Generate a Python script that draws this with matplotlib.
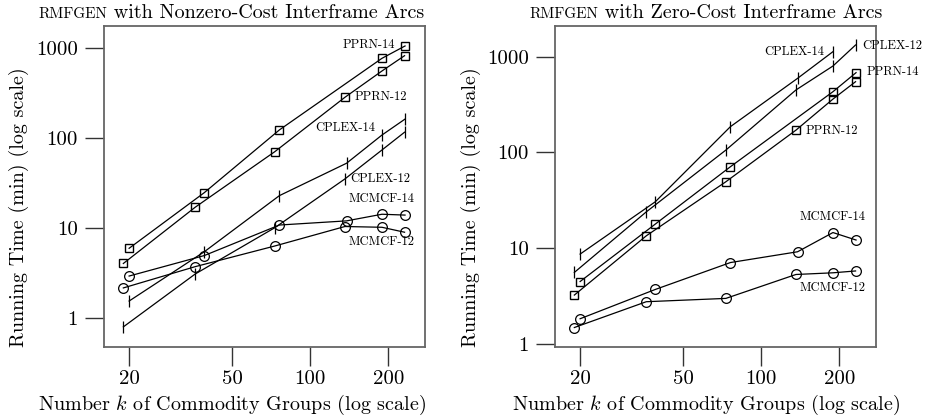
import numpy as np
from matplotlib import pyplot as plt

plt.rcParams['font.family'] = ['cmr10', 'DejaVu Serif']
plt.rcParams['mathtext.fontset'] = 'cm'
plt.rcParams['axes.formatter.use_mathtext'] = True

# commodity group counts (two slightly offset sets of runs)
k_a = [19, 36, 73, 136, 189, 231]
k_b = [20, 39, 76, 138, 189, 232]
k_b5 = [20, 39, 76, 189, 232]      # runs without the 138 point
k_b5c = [20, 39, 76, 138, 189]     # runs without the 232 point

# left panel: nonzero-cost interframe arcs
nz_pprn14 = [5.9, 24.5, 122, 762, 1045]
nz_pprn12 = [4.0, 16.9, 70, 281, 551, 815]
nz_cplex14 = [1.53, 5.4, 22.7, 52, 107, 161]
nz_cplex12 = [0.79, 3.06, 10, 34.8, 73, 115]
nz_mcmcf14 = [2.9, 4.9, 10.7, 11.9, 14.1, 13.8]
nz_mcmcf12 = [2.14, 3.69, 6.26, 10.3, 10.1, 8.9]

# right panel: zero-cost interframe arcs
z_cplex14 = [8.7, 30.6, 186, 594, 1128]
z_cplex12 = [5.6, 24, 106, 449, 799, 1324]
z_pprn14 = [4.5, 17.9, 71, 431, 681]
z_pprn12 = [3.25, 13.5, 49.5, 171, 361, 548]
z_mcmcf14 = [1.84, 3.72, 7.1, 9.2, 14.6, 12.2]
z_mcmcf12 = [1.49, 2.77, 3.0, 5.33, 5.55, 5.8]

xticks = [20, 50, 100, 200]
yticks = [1, 10, 100, 1000]

sq = dict(marker='s', ms=6.2, mfc='none', mec='black', mew=1.0, color='black', lw=0.9)
ci = dict(marker='o', ms=7, mfc='none', mec='black', mew=0.9, color='black', lw=0.9)
vt = dict(marker='|', ms=8, mec='black', mew=0.9, color='black', lw=0.9)

fig = plt.figure(figsize=(9.28, 4.16), dpi=100)
ax1 = fig.add_axes([104/928, 1-347/416, 321/928, 321/416])
ax2 = fig.add_axes([555/928, 1-347/416, 321/928, 321/416])


def style(ax, ylim):
    ax.set_xscale('log')
    ax.set_yscale('log')
    ax.set_xlim(16.0, 277)
    ax.set_ylim(*ylim)
    ax.set_xticks(xticks)
    ax.set_xticklabels([str(t) for t in xticks])
    ax.set_yticks(yticks)
    ax.set_yticklabels([str(t) for t in yticks])
    ax.minorticks_off()
    ax.tick_params(axis='x', direction='out', length=14, width=1.0, labelsize=15, pad=2.5, color='#333333')
    ax.tick_params(axis='y', direction='out', length=14, width=1.0, labelsize=15, pad=5, color='#333333')
    for s in ax.spines.values():
        s.set_color('#666666')
        s.set_linewidth(1.3)


ax1.plot(k_b5, nz_pprn14, **sq)
ax1.plot(k_a, nz_pprn12, **sq)
ax1.plot(k_b, nz_cplex14, **vt)
ax1.plot(k_a, nz_cplex12, **vt)
ax1.plot(k_b, nz_mcmcf14, **ci)
ax1.plot(k_a, nz_mcmcf12, **ci)
style(ax1, (0.472, 1742))

ax2.plot(k_b5c, z_cplex14, **vt)
ax2.plot(k_a, z_cplex12, **vt)
ax2.plot(k_b5, z_pprn14, **sq)
ax2.plot(k_a, z_pprn12, **sq)
ax2.plot(k_b, z_mcmcf14, **ci)
ax2.plot(k_a, z_mcmcf12, **ci)
style(ax2, (0.933, 2090))

lab = dict(fontsize=9, va='center', clip_on=False)
ax1.text(0.907, 0.941, 'PPRN-14', ha='right', transform=ax1.transAxes, **lab)
ax1.text(0.782, 0.779, 'PPRN-12', ha='left', transform=ax1.transAxes, **lab)
ax1.text(0.751, 0.682, 'CPLEX-14', ha='center', transform=ax1.transAxes, **lab)
ax1.text(0.766, 0.523, 'CPLEX-12', ha='left', transform=ax1.transAxes, **lab)
ax1.text(0.866, 0.461, 'MCMCF-14', ha='center', transform=ax1.transAxes, **lab)
ax1.text(0.864, 0.327, 'MCMCF-12', ha='center', transform=ax1.transAxes, **lab)

ax2.text(0.746, 0.919, 'CPLEX-14', ha='center', transform=ax2.transAxes, **lab)
ax2.text(0.956, 0.938, 'CPLEX-12', ha='left', transform=ax2.transAxes, **lab)
ax2.text(0.972, 0.857, 'PPRN-14', ha='left', transform=ax2.transAxes, **lab)
ax2.text(0.782, 0.673, 'PPRN-12', ha='left', transform=ax2.transAxes, **lab)
ax2.text(0.866, 0.405, 'MCMCF-14', ha='center', transform=ax2.transAxes, **lab)
ax2.text(0.864, 0.184, 'MCMCF-12', ha='center', transform=ax2.transAxes, **lab)

# titles with small-caps generator name
renderer = fig.canvas.get_renderer()
for x0, rest in [(38, ' with Nonzero-Cost Interframe Arcs'),
                 (529, ' with Zero-Cost Interframe Arcs')]:
    yb = 416 - 18
    t = fig.text(x0/928, yb/416, 'RMFGEN', fontsize=11, va='baseline', ha='left')
    bb = t.get_window_extent(renderer=renderer)
    fig.text(bb.x1/928, yb/416, rest, fontsize=14.5, va='baseline', ha='left')

for xc in [232/928, 706/928]:
    fig.text(xc, 1-405/416, r'Number $k$ of Commodity Groups (log scale)', fontsize=14.5,
             ha='center', va='center')
for xc in [19/928, 471/928]:
    fig.text(xc, 1-207/416, 'Running Time (min) (log scale)', fontsize=14.5,
             ha='center', va='center', rotation=90)

fig.savefig('out.png', dpi=100)
